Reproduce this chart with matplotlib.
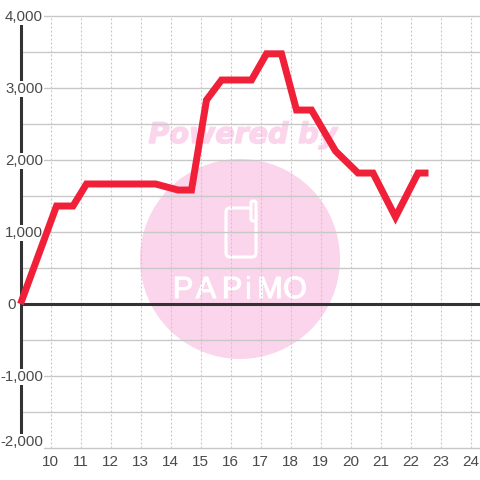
import matplotlib
matplotlib.use('Agg')
import matplotlib.pyplot as plt
import matplotlib.patheffects as pe
from matplotlib.patches import Circle, FancyBboxPatch

plt.rcParams['font.family'] = ['Liberation Sans', 'DejaVu Sans']

hours = [9.0, 10.2, 10.75, 11.2, 13.5, 14.25, 14.7, 15.2, 15.7, 16.7, 17.2, 17.7,
         18.2, 18.7, 19.5, 20.25, 20.75, 21.5, 22.25, 22.6]
values = [0, 1361, 1361, 1667, 1667, 1583, 1583, 2833, 3111, 3111, 3475, 3475,
          2694, 2694, 2125, 1819, 1819, 1208, 1819, 1819]
x_ticks = list(range(10, 25))
y_ticks = [4000, 3000, 2000, 1000, 0, -1000, -2000]
y_labels = ['4,000', '3,000', '2,000', '1,000', '0', '-1,000', '-2,000']
y_minor = [3500, 2500, 1500, 500, -500, -1500]

fig = plt.figure(figsize=(4.8, 4.8), dpi=100)

# watermark sits behind the plot, in pixel coords
bg = fig.add_axes([0, 0, 1, 1], zorder=-1)
bg.set_xlim(0, 480)
bg.set_ylim(480, 0)
bg.axis('off')
pink = '#fbd5ec'
bg.add_patch(Circle((240, 259), 100, color=pink, lw=0))
bg.text(243, 135, 'Powered by', color=pink, fontsize=20.5, fontweight='bold', style='italic',
        family='DejaVu Sans', ha='center', va='center',
        path_effects=[pe.withStroke(linewidth=1, foreground=pink)])
bg.add_patch(FancyBboxPatch((226, 208), 30, 49, boxstyle='round,pad=0,rounding_size=4',
                            fc='none', ec='white', lw=2.2))
bg.add_patch(FancyBboxPatch((251, 201), 5, 20, boxstyle='round,pad=0,rounding_size=2',
                            fc=pink, ec='white', lw=2.2))
for cx, ch in zip([183, 206, 232, 248, 270, 295], 'PAPiMO'):
    bg.text(cx, 290, ch, color='white', fontsize=22, ha='center', va='center',
            path_effects=[pe.withStroke(linewidth=0.8, foreground='white')])

ax = fig.add_axes([20.5 / 480, (480 - 448) / 480, 459.5 / 480, 432 / 480])
ax.patch.set_alpha(0)
ax.set_xlim(9, 9 + 459.5 / 30)
ax.set_ylim(-2000, 4000)
for s in ax.spines.values():
    s.set_visible(False)
ax.set_yticks([])
ax.set_xticks(x_ticks)
ax.tick_params(axis='x', length=0, pad=5, labelsize=11, labelcolor='#4a4a4a')

for y in y_ticks + y_minor:
    ax.axhline(y, color='#c8c8c8', lw=1, zorder=1, clip_on=False)
for x in x_ticks:
    ax.axvline(x, color='#c8c8c8', lw=0.8, ls=(0, (1.8, 1.8)), zorder=1)

ax.axhline(0, color='#333333', lw=2.2, zorder=3)
ax.axvline(9, color='#333333', lw=2.2, zorder=3, clip_on=False)

# labels have a white box that cuts the axis line
for y, lab in zip(y_ticks, y_labels):
    shift = 95 if lab == '-2,000' else 0
    x_lab = 9 - 4.5 / 30 if lab == '0' else 9 + 22.5 / 30
    ax.text(x_lab, y + shift - 14, lab, ha='right', va='center',
            fontsize=10.8, color='#4a4a4a', zorder=4, clip_on=False,
            bbox=dict(fc='white', ec='none', pad=1))

ax.plot(hours, values, color='#f02038', lw=5, solid_joinstyle='miter', solid_capstyle='butt',
        zorder=5, clip_on=False)

fig.savefig('out.png', dpi=100)
